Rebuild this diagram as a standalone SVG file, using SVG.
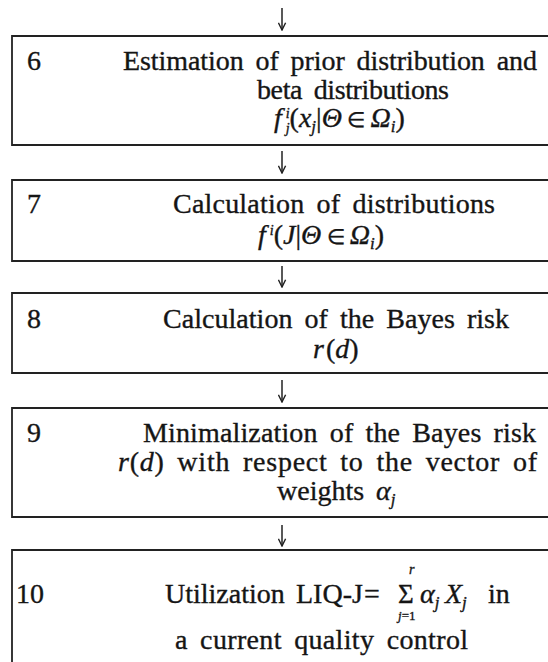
<svg xmlns="http://www.w3.org/2000/svg" width="548" height="662" viewBox="0 0 548 662">
<defs>
<style>
.t{font-family:"Liberation Serif","Times New Roman",serif;font-size:28px;fill:#151515;stroke:#151515;stroke-width:0.35;word-spacing:5px}
.m{word-spacing:0}
.it{font-style:italic}
.up{font-style:normal}
.sm{font-size:17px}
.xs{font-size:14px}
.el{font-size:21px}
.big{font-size:27px}
.box{fill:none;stroke:#222;stroke-width:1.8}
.con{fill:none;stroke:#222;stroke-width:1.5}
</style>
<marker id="ah" viewBox="0 0 10 10" refX="9" refY="5" markerWidth="9" markerHeight="9" orient="auto" markerUnits="userSpaceOnUse">
<path d="M1,1 L9,5 L1,9" fill="none" stroke="#222" stroke-width="1.6"/>
</marker>
</defs>
<rect width="548" height="662" fill="#fff"/>
<g id="connectors">
<path class="con" d="M282,8 V30" marker-end="url(#ah)"/>
<path class="con" d="M282,151 V173" marker-end="url(#ah)"/>
<path class="con" d="M282,266 V287" marker-end="url(#ah)"/>
<path class="con" d="M282,380 V402" marker-end="url(#ah)"/>
<path class="con" d="M282,525 V546" marker-end="url(#ah)"/>
</g>
<g id="node6">
<path class="box" d="M548,36 H12 V145 H548"/>
<text class="t" x="27" y="70">6</text>
<text class="t" x="123" y="70" textLength="414" lengthAdjust="spacing">Estimation of prior distribution and</text>
<text class="t" x="257" y="99" textLength="192" lengthAdjust="spacing">beta distributions</text>
<text class="t m it" x="274" y="127">f<tspan class="xs" dx="4" dy="-9">i</tspan><tspan class="xs" dx="-4" dy="15">j</tspan><tspan class="up" dy="-6">(</tspan>x<tspan class="sm" dy="5">j</tspan><tspan class="up" dy="-5">|</tspan>Θ<tspan class="up el"> ∈ </tspan>Ω<tspan class="sm" dy="5">i</tspan><tspan class="up" dy="-5">)</tspan></text>
</g>
<g id="node7">
<path class="box" d="M548,180 H12 V261 H548"/>
<text class="t" x="27" y="213">7</text>
<text class="t" x="173" y="213" textLength="322" lengthAdjust="spacing">Calculation of distributions</text>
<text class="t m it" x="258" y="244">f<tspan class="xs" dx="4" dy="-9">i</tspan><tspan class="up" dy="9">(</tspan>J<tspan class="up">|</tspan>Θ<tspan class="up el"> ∈ </tspan>Ω<tspan class="sm" dy="5">i</tspan><tspan class="up" dy="-5">)</tspan></text>
</g>
<g id="node8">
<path class="box" d="M548,293 H12 V373 H548"/>
<text class="t" x="27" y="328">8</text>
<text class="t" x="163" y="328" textLength="346" lengthAdjust="spacing">Calculation of the Bayes risk</text>
<text class="t m" x="313" y="358"><tspan class="it">r</tspan><tspan dx="2">(</tspan><tspan class="it">d</tspan>)</text>
</g>
<g id="node9">
<path class="box" d="M548,408 H12 V517 H548"/>
<text class="t" x="27" y="442">9</text>
<text class="t" x="143" y="442" textLength="393" lengthAdjust="spacing">Minimalization of the Bayes risk</text>
<text class="t" x="118" y="471" textLength="419" lengthAdjust="spacing"><tspan class="it">r</tspan>(<tspan class="it">d</tspan>) with respect to the vector of</text>
<text class="t" x="277" y="500">weights <tspan class="it">α</tspan><tspan class="it sm" dy="5">j</tspan></text>
</g>
<g id="node10">
<path class="box" d="M548,550 H12 V662"/>
<text class="t" x="16" y="603">10</text>
<text class="t m" y="603"><tspan x="165">Utilization </tspan><tspan x="296">LIQ-J</tspan><tspan x="364">=</tspan><tspan x="398" class="big">Σ</tspan><tspan x="420" class="it">α</tspan><tspan class="it sm" dy="5">j</tspan><tspan x="445" class="it" dy="-5">X</tspan><tspan class="it sm" dy="5">j </tspan><tspan x="488" dy="-5">in</tspan></text>
<text class="t it xs" x="409" y="574">r</text>
<text class="t m" x="398" y="620" style="font-size:13px"><tspan class="it">j</tspan>=1</text>
<text class="t" x="175" y="649" textLength="293" lengthAdjust="spacing">a current quality control</text>
</g>
</svg>
